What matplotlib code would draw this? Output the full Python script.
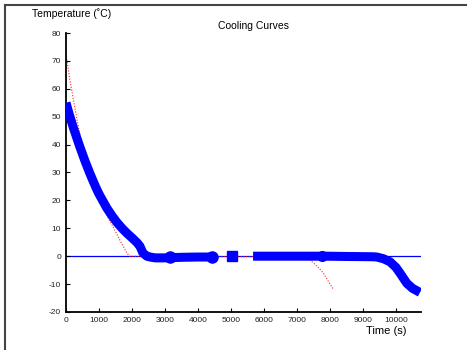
import numpy as np
import matplotlib
matplotlib.use("Agg")
import matplotlib.pyplot as plt
from matplotlib.lines import Line2D

plt.rcParams['font.family'] = ['Liberation Sans', 'DejaVu Sans']
plt.rcParams['axes.unicode_minus'] = False

# measured cooling curve (blue), NaN = gap in the record
meas_t = [0, 100, 220, 420, 580, 730, 900, 1000, 1240, 1400, 1545, 1700, 1850,
          2000, 2150, 2240, 2330, 2450, 2550, 2700,
          3000, 3500, 4000, 4420, np.nan, 5030, np.nan,
          5670, 6500, 7500, 7900, 8500, 9300, 9420, 9620, 9820, 10000, 10120,
          10330, 10500, 10730]
meas_T = [55, 50.8, 46.2, 39.2, 34, 29.5, 24.8, 22.3, 17.2, 14.4, 12.1, 10, 8.2,
          6.6, 4.9, 3.6, 1.2, 0, -0.3, -0.6,
          -0.6, -0.4, -0.3, -0.3, np.nan, 0, np.nan,
          0, 0, 0, 0, -0.1, -0.2, -0.3, -0.9, -2, -4, -6,
          -9.7, -11.5, -13]

# model curve (red, dotted)
model_t = [0, 120, 333, 515, 730, 1030, 1283, 1434, 1636, 1850, 1940, 3000, 5000,
           7000, 7400, 7600, 7800, 7950, 8100]
model_T = [72.5, 63, 49, 38, 29, 21, 13.5, 10.4, 5.7, 1, 0, -0.2, -0.2,
           -0.2, -1.4, -3.5, -6, -9, -11.8]

xticks = [0, 1000, 2000, 3000, 4000, 5000, 6000, 7000, 8000, 9000, 10000]
yticks = [-20, -10, 0, 10, 20, 30, 40, 50, 60, 70, 80]

fig = plt.figure(figsize=(4.67, 3.5), dpi=100)
ax = fig.add_axes([0.1413, 0.1086, 0.7602, 0.7971])

ax.axhline(0, color='#0000ff', lw=0.9, zorder=1)
ax.plot(model_t, model_T, color='#ff2020', lw=0.8, ls=(0, (1, 1.5)), zorder=2)
ax.plot(meas_t, meas_T, color='#0000ff', lw=6.5, solid_capstyle='butt',
        solid_joinstyle='round', zorder=3)
# markers on the record
ax.plot([4420, 3150], [-0.3, -0.4], 'o', color='#0000ff', ms=8, zorder=4)
ax.plot([5030], [0], 's', color='#0000ff', ms=7, zorder=4)
ax.plot([7750], [0], 'o', color='#0000ff', ms=7, zorder=4)

ax.set_xlim(0, 10760)
ax.set_ylim(-20, 80)
ax.set_xticks(xticks)
ax.set_yticks(yticks)
ax.tick_params(direction='in', labelsize=6, length=3, width=0.8, colors='black',
               labelcolor='#222222')
for s in ['top', 'right']:
    ax.spines[s].set_visible(False)
for s in ['left', 'bottom']:
    ax.spines[s].set_linewidth(1.3)

fig.text(253 / 467, 1 - 26 / 350, 'Cooling Curves', ha='center', va='center', fontsize=7.5)
fig.text(32 / 467, 1 - 14 / 350, 'Temperature (˚C)', ha='left', va='center', fontsize=7.5)
fig.text(386 / 467, 1 - 331 / 350, 'Time (s)', ha='center', va='center', fontsize=8)

# frame around the figure (top and left)
fig.add_artist(Line2D([5 / 467, 466 / 467], [1 - 5 / 350, 1 - 5 / 350], color='#444444', lw=1.5,
                      transform=fig.transFigure))
fig.add_artist(Line2D([5 / 467, 5 / 467], [1 - 5 / 350, 0], color='#444444', lw=1.5,
                      transform=fig.transFigure))

fig.savefig('out.png', dpi=100)
